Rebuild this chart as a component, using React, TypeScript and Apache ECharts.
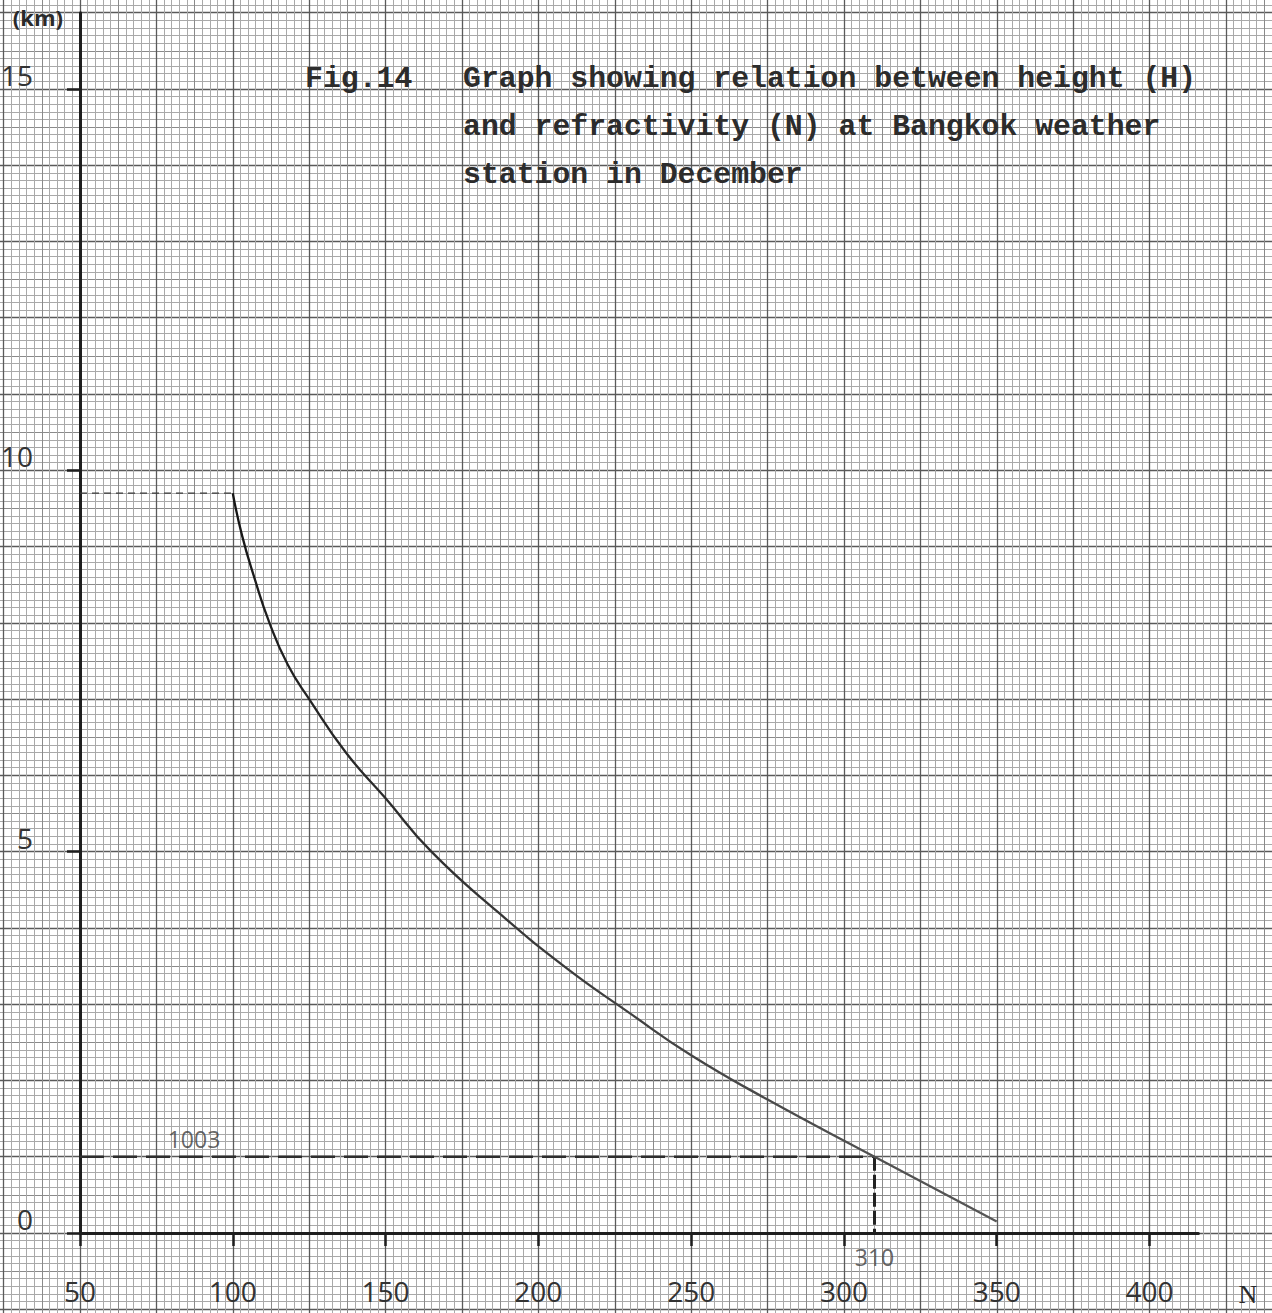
import React, { useEffect, useRef } from "react";
import * as echarts from "echarts";

// Refractivity N (N-units) against height H (km), Bangkok, December
const N_VALUES = [100, 103, 107, 112, 118, 125, 137, 150, 165, 187, 209, 230, 250, 275, 310, 350];
const H_VALUES = [9.7, 9.15, 8.6, 8.0, 7.45, 7.0, 6.3, 5.7, 5.0, 4.2, 3.48, 2.88, 2.33, 1.75, 1.0, 0.15];

// Axis ticks
const X_TICKS = [50, 100, 150, 200, 250, 300, 350, 400];
const Y_TICKS = [0, 5, 10, 15];

// Reading marked on the curve (dashed guide lines)
const READ_N = 310;
const READ_H = 1.0;
const READ_NOTE = "1003";

// Caption
const FIG_LABEL = "Fig.14";
const CAPTION_LINES = [
  "Graph showing relation between height (H)",
  "and refractivity (N) at Bangkok weather",
  "station in December",
];

const TYPE_FONT = '"Liberation Mono", "DejaVu Sans Mono", monospace';
const LETTER_FONT = '"Open Sans", "DejaVu Sans", sans-serif';

export default function App() {
  const ref = useRef<HTMLDivElement | null>(null);

  useEffect(() => {
    document.body.style.margin = "0";
    if (!ref.current) return;
    const chart = echarts.init(ref.current, null, { renderer: "svg" });

    const curve = N_VALUES.map((n, i) => [n, H_VALUES[i]]);
    const xMin = X_TICKS[0];

    // Graph-paper rectangle: extends past the page so lines run edge to edge
    const paperRect = {
      left: -72.8,
      top: -63.6,
      width: 1451.6,
      height: 1449.1,
      containLabel: false,
      outerBoundsMode: "none",
    };
    const paperAxis = (interval: number, color: string, width: number, minor: boolean) => ({
      type: "value" as const,
      min: -2,
      max: 17,
      interval,
      axisLine: { show: false },
      axisTick: { show: false },
      axisLabel: { show: false },
      splitLine: { show: true, lineStyle: { color, width } },
      minorTick: { show: false, splitNumber: 5 },
      minorSplitLine: { show: minor, lineStyle: { color: "#a9a9a9", width: 1 } },
    });

    const option: any = {
      animation: false,
      backgroundColor: "#ffffff",
      grid: [
        { ...paperRect },
        { ...paperRect },
        { left: 80, top: 12.7, right: 73.6, bottom: 80, containLabel: false, outerBoundsMode: "none" },
      ],
      xAxis: [
        { gridIndex: 0, ...paperAxis(0.5, "#8a8a8a", 1, true) },
        { gridIndex: 1, ...paperAxis(1, "#5a5a5a", 1.3, false) },
        {
          gridIndex: 2,
          type: "value",
          min: xMin,
          max: 416,
          interval: 50,
          name: "N",
          nameLocation: "end",
          nameGap: 40,
          nameTextStyle: {
            fontFamily: '"Liberation Serif", serif',
            fontSize: 26,
            color: "#2a2a2a",
            align: "left",
            verticalAlign: "top",
            padding: [48, 0, 0, 0],
          },
          axisLine: { show: true, onZero: false, lineStyle: { color: "#1e1e1e", width: 3 } },
          axisTick: {
            show: true,
            inside: false,
            length: 13,
            customValues: X_TICKS,
            lineStyle: { color: "#1e1e1e", width: 2.5 },
          },
          axisLabel: {
            show: true,
            customValues: X_TICKS,
            margin: 44,
            fontFamily: LETTER_FONT,
            fontSize: 28,
            color: "#333333",
          },
          splitLine: { show: false },
        },
      ],
      yAxis: [
        { gridIndex: 0, ...paperAxis(0.5, "#8a8a8a", 1, true) },
        { gridIndex: 1, ...paperAxis(1, "#5a5a5a", 1.3, false) },
        {
          gridIndex: 2,
          type: "value",
          min: 0,
          max: 16,
          interval: 5,
          name: "(km)",
          nameLocation: "end",
          nameGap: 7,
          nameTextStyle: {
            fontFamily: LETTER_FONT,
            fontWeight: "bold",
            fontSize: 22,
            color: "#2a2a2a",
            align: "right",
            verticalAlign: "top",
            padding: [0, 17, 0, 0],
          },
          axisLine: { show: true, onZero: false, lineStyle: { color: "#1e1e1e", width: 3 } },
          axisTick: {
            show: true,
            inside: false,
            length: 13,
            customValues: Y_TICKS,
            lineStyle: { color: "#1e1e1e", width: 2.5 },
          },
          axisLabel: {
            show: true,
            customValues: Y_TICKS,
            margin: 47,
            verticalAlign: "bottom",
            fontFamily: LETTER_FONT,
            fontSize: 28,
            color: "#333333",
          },
          splitLine: { show: false },
        },
      ],
      series: [
        {
          // dashed guide from the top of the curve to the height axis
          type: "line",
          xAxisIndex: 2,
          yAxisIndex: 2,
          data: [
            [xMin, H_VALUES[0]],
            [N_VALUES[0], H_VALUES[0]],
          ],
          symbol: "none",
          lineStyle: { color: "#3a3a3a", width: 1.2, type: [7, 5] },
          z: 3,
        },
        {
          // horizontal guide at the marked reading
          type: "line",
          xAxisIndex: 2,
          yAxisIndex: 2,
          data: [
            [xMin, READ_H],
            [READ_N, READ_H],
          ],
          symbol: "none",
          lineStyle: { color: "#2e2e2e", width: 2.4, type: [24, 9] },
          z: 3,
        },
        {
          // vertical guide down to the N axis
          type: "line",
          xAxisIndex: 2,
          yAxisIndex: 2,
          data: [
            [READ_N, READ_H],
            [READ_N, 0],
          ],
          symbol: "none",
          lineStyle: { color: "#222222", width: 3, type: [14, 4] },
          z: 3,
        },
        {
          // H(N) profile
          type: "line",
          xAxisIndex: 2,
          yAxisIndex: 2,
          data: curve,
          smooth: 0.5,
          symbol: "none",
          lineStyle: {
            width: 2.3,
            color: new echarts.graphic.LinearGradient(0, 0, 0, 1, [
              { offset: 0, color: "#141414" },
              { offset: 0.5, color: "#303030" },
              { offset: 1, color: "#575757" },
            ]),
          },
          z: 4,
        },
        {
          // handwritten notes beside the guide lines
          type: "scatter",
          xAxisIndex: 2,
          yAxisIndex: 2,
          clip: false,
          symbolSize: 0,
          silent: true,
          data: [
            { value: [87.3, READ_H + 0.23], label: { formatter: READ_NOTE } },
            { value: [READ_N, -0.32], label: { formatter: String(READ_N) } },
          ],
          label: {
            show: true,
            position: "inside",
            fontFamily: LETTER_FONT,
            fontSize: 23,
            color: "#404040",
          },
          z: 5,
        },
      ],
      graphic: [
        {
          type: "text",
          x: 305,
          y: 79,
          z: 10,
          style: {
            text: FIG_LABEL,
            fontFamily: TYPE_FONT,
            fontSize: 29.8,
            fontWeight: "bold",
            fill: "#2c2c2c",
            align: "left",
            verticalAlign: "middle",
          },
        },
        ...CAPTION_LINES.map((line, i) => ({
          type: "text",
          x: 463,
          y: 79 + i * 48,
          z: 10,
          style: {
            text: line,
            fontFamily: TYPE_FONT,
            fontSize: 29.8,
            fontWeight: "bold",
            fill: "#2c2c2c",
            align: "left",
            verticalAlign: "middle",
          },
        })),
      ],
    };

    chart.setOption(option);
    return () => chart.dispose();
  }, []);

  return <div ref={ref} style={{ width: 1272, height: 1313, background: "#ffffff" }} />;
}
